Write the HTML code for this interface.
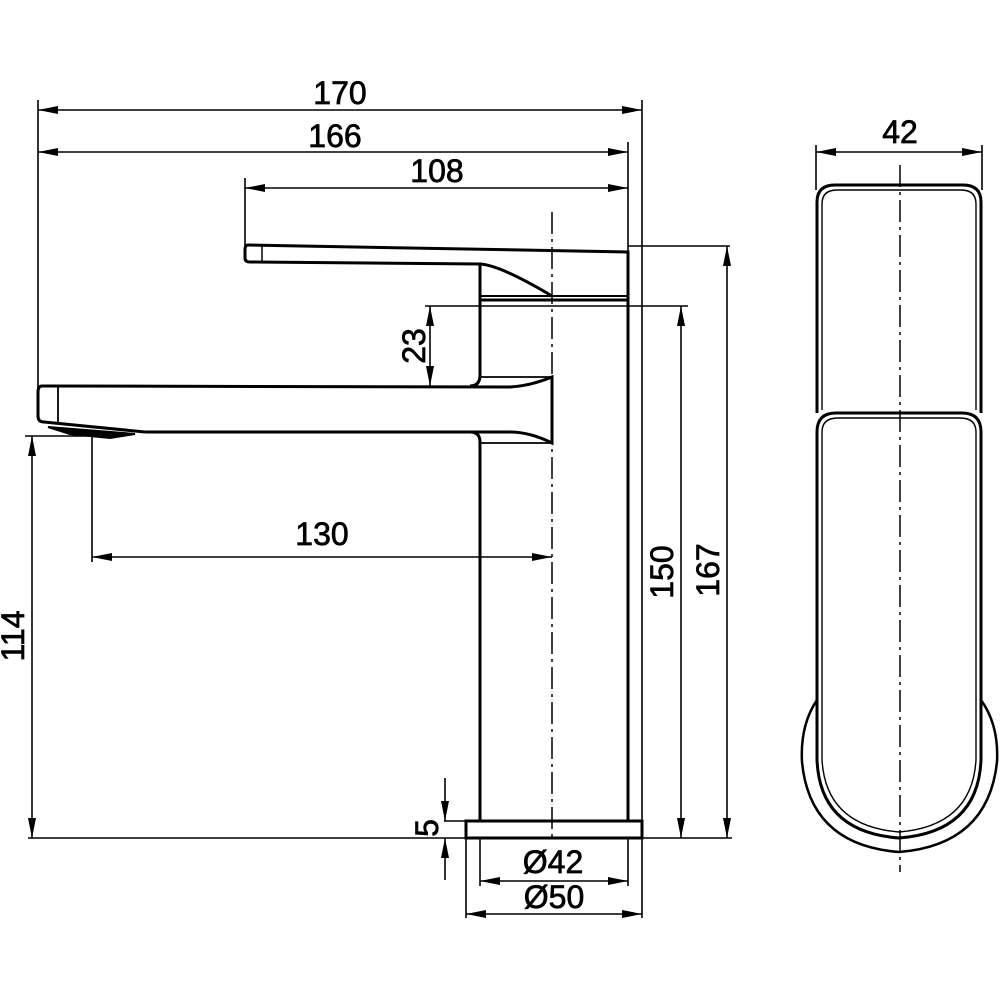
<!DOCTYPE html>
<html><head><meta charset="utf-8"><style>
html,body{margin:0;padding:0;background:#fff;}
svg{display:block;}
text{font-family:"Liberation Sans",Arial,sans-serif;font-size:32px;fill:#000;stroke:#000;stroke-width:0.7px;}
</style></head><body>
<svg width="1000" height="1000" viewBox="0 0 1000 1000" xmlns="http://www.w3.org/2000/svg">
<defs>
<marker id="a" viewBox="0 0 20 8" refX="20" refY="4" markerWidth="20" markerHeight="8" markerUnits="userSpaceOnUse" orient="auto-start-reverse"><path d="M0,0 L20,4 L0,8 z" fill="#000"/></marker>
</defs>
<g stroke="#000" fill="none">
<g stroke-width="1.6">
<line x1="38" y1="100" x2="38" y2="388"/>
<line x1="642" y1="100" x2="642" y2="838"/>
<line x1="628" y1="142" x2="628" y2="300"/>
<line x1="245" y1="178" x2="245" y2="250"/>
<line x1="628" y1="246" x2="730" y2="246"/>
<line x1="425" y1="306" x2="688" y2="306"/>
<line x1="28" y1="838" x2="732" y2="838"/>
<line x1="25" y1="436" x2="92" y2="436"/>
<line x1="92" y1="436" x2="92" y2="562"/>
<line x1="480" y1="838" x2="480" y2="886"/>
<line x1="628" y1="838" x2="628" y2="886"/>
<line x1="466" y1="838" x2="466" y2="918"/>
<line x1="642" y1="838" x2="642" y2="918"/>
<line x1="444" y1="821" x2="466" y2="821"/>
<line x1="816" y1="145" x2="816" y2="190"/>
<line x1="982" y1="145" x2="982" y2="190"/>
</g>
<g stroke-width="1.6" marker-start="url(#a)" marker-end="url(#a)">
<line x1="38" y1="110" x2="642" y2="110"/>
<line x1="38" y1="152" x2="628" y2="152"/>
<line x1="245" y1="188" x2="628" y2="188"/>
<line x1="430" y1="306" x2="430" y2="386"/>
<line x1="681" y1="306" x2="681" y2="838"/>
<line x1="727" y1="246" x2="727" y2="838"/>
<line x1="32" y1="436" x2="32" y2="838"/>
<line x1="92" y1="557" x2="552" y2="557"/>
<line x1="480" y1="881" x2="628" y2="881"/>
<line x1="466" y1="914" x2="642" y2="914"/>
<line x1="816" y1="152" x2="982" y2="152"/>
</g>
<g stroke-width="1.6">
<line x1="445" y1="778" x2="445" y2="821" marker-end="url(#a)"/>
<line x1="445" y1="880" x2="445" y2="838" marker-end="url(#a)"/>
</g>
<g stroke-width="1.5" stroke-dasharray="22,5,3,5">
<line x1="552" y1="212" x2="552" y2="842"/>
<line x1="900" y1="165" x2="900" y2="872"/>
</g>
<g stroke-width="3">
<path d="M248,245 L628,252 L628,300 L480,300 L480,265"/>
<path d="M248,245 Q245,245 245,250 L245,258 Q245,262 250,262 L480,264 Q500,265 552,296"/>
<line x1="262" y1="246" x2="262" y2="262" stroke-width="1.5"/>
<line x1="480" y1="296" x2="628" y2="296" stroke-width="2"/>
<line x1="480" y1="300" x2="480" y2="375"/>
<path d="M480,375 Q480,386 470,386"/>
<line x1="628" y1="300" x2="628" y2="821"/>
<line x1="480" y1="442" x2="480" y2="821"/>
<path d="M470,432 Q480,432 480,442"/>
<path d="M42,386 L510,387 Q530,386 552,377 L552,443 Q530,432 510,432 L145,432"/>
<path d="M42,386 Q38,386 38,392 L38,416 Q38,422 44,422 L145,432"/>
<line x1="58" y1="387" x2="58" y2="422" stroke-width="1.8"/>
<line x1="480" y1="377" x2="552" y2="377" stroke-width="1.8"/>
<line x1="480" y1="443" x2="552" y2="443" stroke-width="1.8"/>
<path d="M48,427 L135,434 L110,438 L70,434 Z" fill="#000" stroke-width="2"/>
<rect x="466" y="821" width="176" height="17"/>
</g>
<!-- side view -->
<g stroke-width="3">
<!-- upper part -->
<path d="M817,413 L817,202 Q817,185 835,185 L963,185 Q981,185 981,202 L981,413"/>
<path d="M822,410 L822,204 Q822,190 837,190 L961,190 Q976,190 976,204 L976,410" stroke-width="1.4"/>
<!-- lower part -->
<path d="M817,432 Q817,413 836,413 L962,413 Q981,413 981,432 L981,760 Q978,832 899,838 Q820,832 817,760 Z"/>
<path d="M822,432 Q822,418 838,418 L960,418 Q976,418 976,432 L976,760 Q972,826 899,832 Q826,826 822,760 Z" stroke-width="1.4"/>
<!-- base ellipse -->
<path d="M817,700 Q800,725 802,762 Q810,845 899,852 Q988,845 997,762 Q999,725 981,700" stroke-width="2.5"/>
</g>
</g>
<text x="340" y="104" text-anchor="middle">170</text>
<text x="335" y="147" text-anchor="middle">166</text>
<text x="437" y="182" text-anchor="middle">108</text>
<text x="900" y="143" text-anchor="middle">42</text>
<text x="322" y="545" text-anchor="middle">130</text>
<text x="553" y="873" text-anchor="middle">Ø42</text>
<text x="554" y="908" text-anchor="middle">Ø50</text>
<text transform="translate(425,346) rotate(-90)" text-anchor="middle">23</text>
<text transform="translate(673,572) rotate(-90)" text-anchor="middle">150</text>
<text transform="translate(719,570) rotate(-90)" text-anchor="middle">167</text>
<text transform="translate(24,636) rotate(-90)" text-anchor="middle">114</text>
<text transform="translate(438,828) rotate(-90)" text-anchor="middle">5</text>
</svg>
</body></html>
